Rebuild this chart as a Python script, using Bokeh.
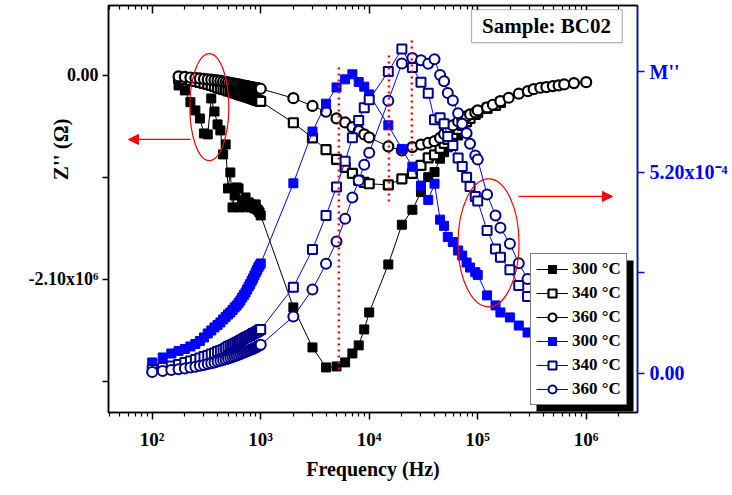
import numpy as np
from bokeh.plotting import figure
from bokeh.models import (Range1d, LinearAxis, LogAxis, FixedTicker, Label, Legend,
                          LegendItem, Arrow, NormalHead, BoxAnnotation)
from bokeh.embed import file_html
from bokeh.resources import INLINE

# ---------------- data ----------------
# frequencies (Hz)
f_low_m = [100, 125, 150, 175, 200, 225, 250, 275, 300, 325, 350, 375, 400, 425, 450, 475,
           500, 525, 550, 575, 600, 625, 650, 675, 700, 725, 750, 775, 800, 825, 850, 875,
           900, 925, 950, 975, 1000]
f_low_z = [175, 200, 225, 250, 275, 300, 325, 350, 375, 400, 425, 450, 475,
           500, 525, 550, 575, 600, 625, 650, 675, 700, 725, 750, 775, 800, 825, 850, 875,
           900, 925, 950, 975, 1000]
f_high_m = [2000, 3000, 4000, 5000, 6000, 7000, 8000, 9000, 10000, 15000, 20000, 25000,
            30000, 35000, 40000, 45000, 49000, 53000, 59000, 66000, 72000, 79000, 85000,
            95000, 100000, 122000, 146000, 162000, 198000, 239000, 288000, 350000, 420000,
            510000, 620000, 750000, 900000, 1000000]
f_high_z = [2000, 3000, 4000, 5000, 6000, 7000, 8000, 9000, 10000, 15000, 20000, 25000,
            30000, 35000, 40000, 45000, 49000, 53000, 59000, 66000, 72000, 79000, 85000,
            95000, 100000, 122000, 146000, 162000]
f_high_z360 = [2000, 3000, 4000, 5000, 6000, 7000, 8000, 9000, 10000, 15000, 20000, 25000,
               30000, 35000, 40000, 45000, 49000, 53000, 59000, 66000, 72000, 79000, 85000,
               95000, 100000, 122000, 138000, 162000, 193000, 239000, 290000, 328000,
               378000, 429000, 493000, 557000, 627000, 771000, 1000000]

# Z'' (units of 1e6 Ohm)
z300_low = [-0.103, -0.154, -0.275, -0.360, -0.443, -0.597, -0.607, -0.237, -0.371, -0.504,
            -0.566, -0.813, -0.710, -1.163, -0.999, -1.359, -1.235, -1.153, -1.163, -1.359,
            -1.287, -1.318, -1.256, -1.338, -1.307, -1.359, -1.328, -1.349, -1.369, -1.328,
            -1.379, -1.390, -1.410, -1.441]
z300_high = [-2.388, -2.800, -3.006, -2.996, -2.954, -2.862, -2.779, -2.615, -2.440, -1.946,
             -1.537, -1.383, -1.201, -1.047, -0.995, -0.857, -0.790, -0.740, -0.670, -0.618,
             -0.535, -0.484, -0.448, -0.400, -0.386, -0.330, -0.300, -0.270]
z340_low = [-0.031, -0.041, -0.051, -0.062, -0.072, -0.082, -0.093, -0.103, -0.113, -0.124,
            -0.134, -0.144, -0.149, -0.160, -0.165, -0.175, -0.180, -0.185, -0.196, -0.201,
            -0.206, -0.211, -0.216, -0.221, -0.226, -0.232, -0.237, -0.242, -0.247, -0.252,
            -0.257, -0.260, -0.265, -0.268]
z340_high = [-0.487, -0.643, -0.764, -0.865, -0.947, -1.009, -1.081, -1.100, -1.115, -1.127,
             -1.065, -1.009, -0.926, -0.849, -0.818, -0.751, -0.700, -0.659, -0.607, -0.556,
             -0.515, -0.474, -0.443, -0.401, -0.381, -0.340, -0.309, -0.278]
z360_low = [-0.010, -0.015, -0.021, -0.026, -0.031, -0.036, -0.041, -0.044, -0.048, -0.051,
            -0.057, -0.062, -0.067, -0.072, -0.077, -0.082, -0.085, -0.090, -0.093, -0.098,
            -0.101, -0.105, -0.108, -0.111, -0.114, -0.117, -0.120, -0.124, -0.127, -0.129,
            -0.132, -0.134, -0.136, -0.137]
z360_high = [-0.234, -0.314, -0.374, -0.443, -0.484, -0.532, -0.571, -0.607, -0.638, -0.731,
             -0.772, -0.738, -0.712, -0.695, -0.677, -0.643, -0.602, -0.561, -0.515, -0.474,
             -0.453, -0.422, -0.401, -0.381, -0.360, -0.329, -0.302, -0.265, -0.230, -0.188,
             -0.162, -0.141, -0.127, -0.120, -0.110, -0.103, -0.093, -0.079, -0.069]

# M'' (units of 1e-4)
m300_low = [0.285, 0.414, 0.517, 0.582, 0.634, 0.698, 0.763, 0.841, 0.931, 1.035, 1.112,
            1.190, 1.255, 1.319, 1.397, 1.462, 1.526, 1.578, 1.643, 1.707, 1.759, 1.824,
            1.889, 1.966, 2.031, 2.095, 2.173, 2.251, 2.315, 2.393, 2.458, 2.535, 2.613,
            2.678, 2.742, 2.794, 2.846]
m300_high = [4.92, 6.26, 6.98, 7.40, 7.61, 7.74, 7.54, 7.42, 7.22, 6.42, 5.81, 5.35, 4.86,
             4.49, 4.91, 3.98, 3.82, 3.53, 3.40, 3.18, 3.05, 2.87, 2.74, 2.62, 2.55, 2.02,
             1.76, 1.58, 1.45, 1.24, 1.06, 0.95, 0.86, 0.78, 0.72, 0.66, 0.62, 0.60]
m340_low = [0.103, 0.155, 0.194, 0.233, 0.285, 0.323, 0.362, 0.401, 0.440, 0.466, 0.504,
            0.530, 0.569, 0.595, 0.621, 0.660, 0.698, 0.724, 0.750, 0.776, 0.802, 0.828,
            0.854, 0.880, 0.905, 0.931, 0.944, 0.970, 0.983, 1.009, 1.035, 1.048, 1.061,
            1.087, 1.100, 1.125, 1.138]
m340_high = [2.233, 3.208, 4.087, 4.825, 5.492, 6.098, 6.545, 6.874, 7.081, 7.813, 8.395,
             7.916, 7.536, 7.251, 6.563, 6.615, 6.460, 6.131, 5.898, 5.575, 5.355, 5.078,
             4.838, 4.579, 4.463, 3.699, 3.221, 3.009, 2.683, 2.277, 1.992, 1.75, 1.55,
             1.38, 1.22, 1.10, 1.00, 0.95]
m360_low = [0.039, 0.065, 0.091, 0.109, 0.129, 0.155, 0.176, 0.199, 0.220, 0.243, 0.264,
            0.285, 0.310, 0.329, 0.349, 0.367, 0.388, 0.406, 0.427, 0.445, 0.466, 0.484,
            0.504, 0.522, 0.543, 0.559, 0.574, 0.593, 0.608, 0.624, 0.639, 0.657, 0.673,
            0.691, 0.709, 0.724, 0.742]
m360_high = [1.475, 2.173, 2.838, 3.415, 4.002, 4.553, 4.993, 5.399, 5.710, 7.055, 8.020,
             8.162, 8.105, 8.012, 8.128, 7.720, 7.562, 7.257, 7.063, 6.734, 6.460, 6.217,
             5.942, 5.640, 5.536, 4.631, 4.087, 3.769, 3.355, 2.853, 2.445, 2.15, 1.90,
             1.70, 1.50, 1.35, 1.20, 1.15]

labels = ["300 °C", "340 °C", "360 °C"]
x_major = [1e2, 1e3, 1e4, 1e5, 1e6]
x_major_labels = ["10²", "10³", "10⁴", "10⁵", "10⁶"]
z_major = [0.0, -2.1e6]
z_major_labels = ["0.00", "-2.10x10⁶"]
z_minor = [-1.05e6, -3.15e6]
m_major = [0.0, 5.2e-4, 7.8e-4]
m_major_labels = ["0.00", "5.20x10⁻⁴", "M''"]
m_minor = [2.6e-4]

# annotations (data coordinates)
vline_x = [5250, 15200, 24700]
vline_top = [0.082e6, 0.206e6, 0.360e6]
vline_bottom = [-3.068e6, -1.307e6, -0.824e6]
ell_x = [336, 1.258e5]
ell_y = [-0.326e6, -1.724e6]

FONT = "Liberation Serif"
BLUE = "#0000FF"
NAVY = "#00008B"

p = figure(width=732, height=495, x_axis_type="log",
           x_range=Range1d(39.55, 2.97e6), y_range=Range1d(-3.47e6, 0.72e6),
           output_backend="svg", toolbar_location=None,
           min_border_left=108, min_border_right=95, min_border_top=5,
           min_border_bottom=83)
p.extra_y_ranges = {"m": Range1d(-1.01e-4, 9.52e-4)}
p.grid.visible = False
p.outline_line_color = "black"
p.outline_line_width = 1.5
p.background_fill_color = "white"
p.border_fill_color = "white"

x_minor = [k * d for d in [10, 100, 1e3, 1e4, 1e5, 1e6] for k in range(2, 10)]

# bottom axis
xa = p.xaxis[0]
xa.ticker = FixedTicker(ticks=x_major, minor_ticks=x_minor)
xa.major_label_overrides = dict(zip(x_major, x_major_labels))
xa.axis_label = "Frequency (Hz)"
xa.axis_label_text_font = FONT
xa.axis_label_text_font_style = "bold"
xa.axis_label_text_font_size = "20px"
xa.axis_label_text_color = "black"
xa.axis_label_standoff = 5
xa.major_label_text_font = FONT
xa.major_label_text_font_style = "bold"
xa.major_label_text_font_size = "19px"
xa.major_label_text_color = "black"
xa.major_label_standoff = 9
xa.major_tick_out = 7
xa.major_tick_in = 0
xa.minor_tick_out = 4
xa.minor_tick_in = 0
xa.axis_line_width = 1.5
xa.major_tick_line_width = 1.5
xa.minor_tick_line_width = 1.2

# top axis (ticks only, inward)
ta = LogAxis(ticker=FixedTicker(ticks=x_major, minor_ticks=x_minor))
ta.major_label_text_font_size = "2px"
ta.major_label_text_alpha = 0
ta.major_label_standoff = 0
ta.major_tick_in = 8
ta.major_tick_out = 0
ta.minor_tick_in = 4
ta.minor_tick_out = 0
ta.axis_line_width = 1.5
ta.major_tick_line_width = 1.5
ta.minor_tick_line_width = 1.2
p.add_layout(ta, "above")

# left axis
ya = p.yaxis[0]
ya.ticker = FixedTicker(ticks=z_major, minor_ticks=z_minor)
ya.major_label_overrides = dict(zip(z_major, z_major_labels))
ya.major_label_text_font = FONT
ya.major_label_text_font_style = "bold"
ya.major_label_text_font_size = "18px"
ya.major_label_text_color = "black"
ya.major_tick_out = 6
ya.major_tick_in = 0
ya.minor_tick_out = 6
ya.minor_tick_in = 0
ya.axis_line_width = 1.5
ya.major_tick_line_width = 1.5
ya.minor_tick_line_width = 1.5
ya.major_label_standoff = 4

# right axis (the M'' title sits at the top tick)
ra = LinearAxis(y_range_name="m", ticker=FixedTicker(ticks=m_major, minor_ticks=m_minor))
ra.major_label_overrides = dict(zip(m_major, m_major_labels))
ra.major_label_text_font = FONT
ra.major_label_text_font_style = "bold"
ra.major_label_text_font_size = "20px"
ra.major_label_text_color = BLUE
ra.axis_line_color = BLUE
ra.major_tick_line_color = BLUE
ra.minor_tick_line_color = BLUE
ra.major_tick_out = 7
ra.major_tick_in = 0
ra.minor_tick_out = 7
ra.minor_tick_in = 0
ra.axis_line_width = 1.5
ra.major_tick_line_width = 1.5
ra.minor_tick_line_width = 1.5
ra.major_label_standoff = 5
p.add_layout(ra, "right")

# -------------- series --------------
fz = np.array(f_low_z + f_high_z, dtype=float)
fz360 = np.array(f_low_z + f_high_z360, dtype=float)
fm = np.array(f_low_m + f_high_m, dtype=float)

z300 = np.array(z300_low + z300_high) * 1e6
z340 = np.array(z340_low + z340_high) * 1e6
z360 = np.array(z360_low + z360_high) * 1e6
m300 = np.array(m300_low + m300_high) * 1e-4
m340 = np.array(m340_low + m340_high) * 1e-4
m360 = np.array(m360_low + m360_high) * 1e-4

items = []
# Z''
l = p.line(fz, z300, line_color="black", line_width=1)
s = p.scatter(fz, z300, marker="square", size=9, fill_color="black", line_color="black")
items.append(LegendItem(label=labels[0], renderers=[l, s]))
l = p.line(fz, z340, line_color="black", line_width=1)
s = p.scatter(fz, z340, marker="square", size=9, fill_color="white", line_color="black",
              line_width=2.2)
items.append(LegendItem(label=labels[1], renderers=[l, s]))
l = p.line(fz360, z360, line_color="black", line_width=1)
s = p.scatter(fz360, z360, marker="circle", size=10, fill_color="white", line_color="black",
              line_width=2.2)
items.append(LegendItem(label=labels[2], renderers=[l, s]))
# M''
l = p.line(fm, m300, line_color=BLUE, line_width=1, y_range_name="m")
s = p.scatter(fm, m300, marker="square", size=9, fill_color=BLUE, line_color=BLUE,
              y_range_name="m")
items.append(LegendItem(label=labels[0], renderers=[l, s]))
l = p.line(fm, m340, line_color=BLUE, line_width=1, y_range_name="m")
s = p.scatter(fm, m340, marker="square", size=9, fill_color="white", line_color=NAVY,
              line_width=2, y_range_name="m")
items.append(LegendItem(label=labels[1], renderers=[l, s]))
l = p.line(fm, m360, line_color=BLUE, line_width=1, y_range_name="m")
s = p.scatter(fm, m360, marker="circle", size=10, fill_color="white", line_color=NAVY,
              line_width=2, y_range_name="m")
items.append(LegendItem(label=labels[2], renderers=[l, s]))

# -------------- annotations --------------
for xv, yt, yb in zip(vline_x, vline_top, vline_bottom):
    p.line([xv, xv], [yt, yb], line_color="red", line_width=2.5, line_dash="2 4")

p.ellipse(x=ell_x, y=ell_y, width=[39, 61], height=[107, 128], width_units="screen",
          height_units="screen", fill_color=None, line_color="red", line_width=1.2)

p.add_layout(Arrow(end=NormalHead(size=10, fill_color="red", line_color="red"),
                   x_start=226, y_start=-0.659e6, x_end=60.5, y_end=-0.659e6,
                   line_color="red", line_width=1.2))
p.add_layout(Arrow(end=NormalHead(size=10, fill_color="red", line_color="red"),
                   x_start=2.38e5, y_start=-1.2456e6, x_end=1.746e6, y_end=-1.2456e6,
                   line_color="red", line_width=1.2))

# sample box
p.add_layout(BoxAnnotation(left=8.77e4, right=2.15e6, top=0.676e6, bottom=0.337e6,
                           fill_color="white", fill_alpha=1, line_color="black",
                           line_width=1.2))
p.add_layout(Label(x=4.31e5, y=0.504e6, text="Sample: BC02", text_align="center",
                   text_baseline="middle", text_font=FONT, text_font_style="bold",
                   text_font_size="21px", text_color="black"))

# left axis title, placed in the left side panel so that it is not clipped
p.add_layout(Label(x=14.3, y=-0.76e6, text="Z'' (Ω)", angle=90, angle_units="deg",
                   text_align="center", text_baseline="middle", text_font=FONT,
                   text_font_style="bold", text_font_size="21px", text_color="black",
                   text_line_height=0.8), "left")

# legend shadow + legend
p.add_layout(BoxAnnotation(left=3.48e5, right=2.73e6, top=-1.904e6, bottom=-3.459e6,
                           fill_color="black", fill_alpha=1, line_color=None))
legend = Legend(items=items, location=(422, 7), label_text_font=FONT,
                label_text_font_style="bold", label_text_font_size="17px",
                label_text_color="black",
                border_line_color="black", border_line_width=1,
                background_fill_color="white", background_fill_alpha=1,
                glyph_width=32, glyph_height=20, label_height=20, spacing=4,
                padding=5, margin=0, label_standoff=4)
p.add_layout(legend)

open("out.html", "w").write(file_html(p, INLINE))
